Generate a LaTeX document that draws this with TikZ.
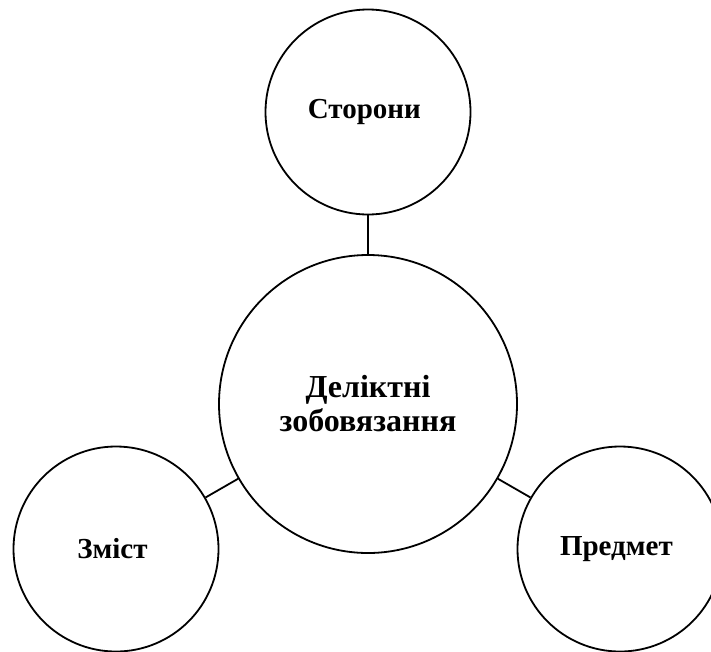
\documentclass[tikz,border=0pt]{standalone}
\usepackage{fontspec}
\setmainfont{Liberation Serif}
\usepackage{xcolor}
\usepackage{tikz}
\usetikzlibrary{shapes.geometric,positioning,calc}

\begin{document}
\begin{tikzpicture}[
			every node/.style={font=\bfseries\fontsize{29}{33}\selectfont},
			part/.style={circle, draw=black, line width=1.8pt, minimum size=205pt, inner sep=0pt, align=center},
			core/.style={part, minimum size=298pt, font=\bfseries\fontsize{32}{34}\selectfont},
			link/.style={draw=black, line width=1.8pt}
			]
			
			\clip (0, 0) rectangle (711pt, -651pt);
			
			\node (deal) at (368pt, -404pt) [core] { Деліктні\\зобовязання };
			
			\node (sides) at (368pt, -112pt) [part] { Сторони };
			\node (content) at (116pt, -549pt) [part] { Зміст };
			\node (subject) at (620pt, -549pt) [part] { Предмет };
			
			\draw [link] (sides) -- (deal);
			\draw [link] (deal) -- (content);
			\draw [link] (deal) -- (subject);
			\end{tikzpicture}
\end{document}
